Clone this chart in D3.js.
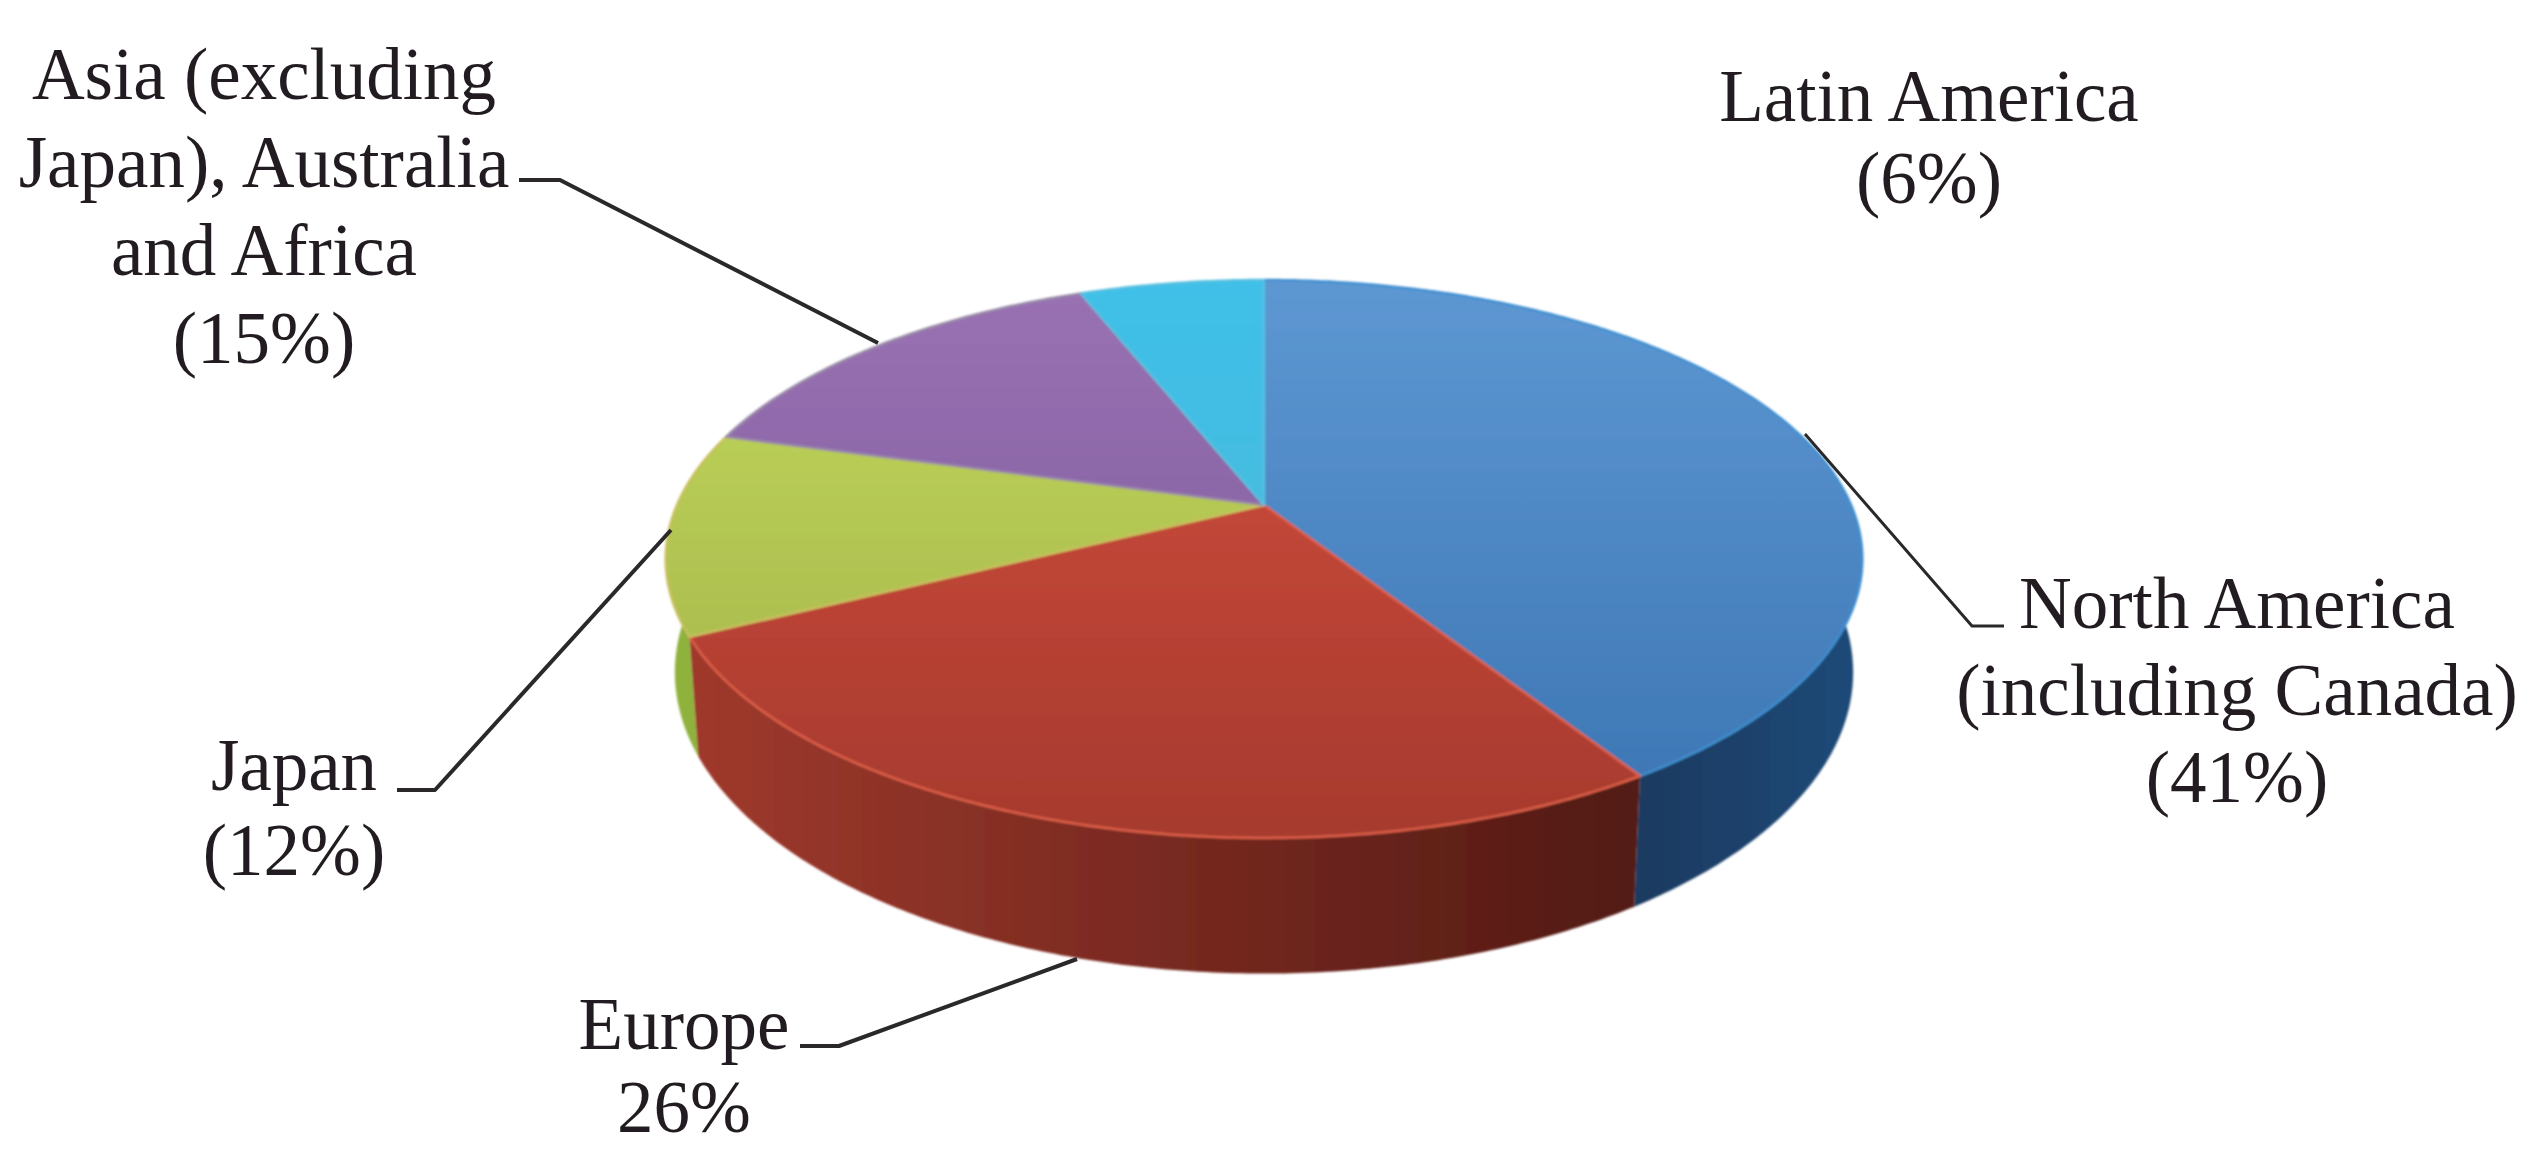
<!DOCTYPE html>
<html>
<head>
<meta charset="utf-8">
<script src="https://cdn.jsdelivr.net/npm/d3@7/dist/d3.min.js"></script>
<style>
html,body{margin:0;padding:0;background:#fff;}
svg{display:block;}
text{font-family:"Liberation Serif","Times New Roman",serif;font-size:73px;fill:#231f20;text-anchor:middle;}
</style>
</head>
<body>
<script>
// ---- data ----
const regions = ["North America", "Europe", "Japan", "Asia", "Latin America"];
const printedShares = [41, 26, 12, 15, 6];          // printed in the labels
const drawnShares = [41, 26.6, 11.7, 14.7, 6];      // slice sweep as measured in the picture
const labelLines = [
  ["North America", "(including Canada)", "(41%)"],
  ["Europe", "26%"],
  ["Japan", "(12%)"],
  ["Asia (excluding", "Japan), Australia", "and Africa", "(15%)"],
  ["Latin America", "(6%)"]
];
// ---- styles and layout, separate from the data ----
const topColors = [["#5e98d3","#3b74b2"],["#d6503f","#a63a2e"],["#c2d95a","#a1b04a"],["#9a72b4","#775796"],["#3fc0e8","#4fb6d4"]];
const sideColors = [["#1c3a60","#1f4a78"],["#a03a2d","#521a14"],["#8fb23c","#84a636"],["#6a4a8a","#6a4a8a"],["#3a9ab8","#3a9ab8"]];
const rimColors = ["#3f8fd0","#dd5f48","#c8c060","#9a8aa8","#58c0e0"];
const labelPos = [[2237,628,87],[684,1049,83],[294,790,85],[264,99,88],[1929,121,82]];
const leaders = [
  [[1805,434],[1972,626],[2004,626]],
  [[800,1046],[839,1046],[1077,959]],
  [[397,790],[435,790],[671,530]],
  [[519,180],[560,180],[878,343]]
];
const leaderWidths = [3,4,4,4];

const width = 2544, height = 1167;
const k = 0.1935;
const X = d3.scaleLinear().domain([0,1]).range([1264,1264+587]);
const Y = d3.scaleLinear().domain([0,1]).range([505,505+268.5]);
const X2 = d3.scaleLinear().domain([0,1]).range([1264,1264+578]);
const Y2 = d3.scaleLinear().domain([0,1]).range([614,614+290]);

// perspective view of a point on the disc's rim or centre
const view = (xs, ys, a, r=1) => {
  const u = r*Math.sin(a), v = -r*Math.cos(a), w = 1-k*v;
  return [xs(u/w), ys(v/w)];
};
const arcPts = (xs, ys, a0, a1) => {
  const n = Math.max(2, Math.ceil((a1-a0)/0.01));
  return d3.range(n+1).map(i => view(xs, ys, a0+(a1-a0)*i/n));
};

const svg = d3.select("body").append("svg").attr("width",width).attr("height",height);
const defs = svg.append("defs");
defs.append("filter").attr("id","soft").attr("x","-5%").attr("y","-5%").attr("width","110%").attr("height","110%")
  .append("feGaussianBlur").attr("stdDeviation",1.1);
defs.append("filter").attr("id","softText")
  .attr("x","-5%").attr("y","-5%").attr("width","110%").attr("height","110%")
  .append("feGaussianBlur").attr("stdDeviation",0.7);

const grad = (id, stops, vertical) => {
  const g = defs.append("linearGradient").attr("id",id).attr("gradientUnits","userSpaceOnUse");
  if (vertical) g.attr("x1",0).attr("x2",0).attr("y1",278).attr("y2",836);
  else g.attr("x1",675).attr("x2",1640).attr("y1",0).attr("y2",0);
  g.selectAll("stop").data(stops).join("stop")
    .attr("offset",(d,i)=>i/(stops.length-1)).attr("stop-color",d=>d);
};
topColors.forEach((c,i)=>grad("top"+i,c,true));
sideColors.forEach((c,i)=>{
  grad("side"+i,c,false);
});
defs.select("#side0").attr("x1",1640).attr("x2",1855);

const slices = d3.pie().sort(null).startAngle(0).endAngle(2*Math.PI)(drawnShares);
const line = d3.line();
const pie = svg.append("g").attr("filter","url(#soft)");

// rim: back slices first, red in front
[3,4,0,2,1].forEach(i=>{
  const s = slices[i];
  const pts = arcPts(X,Y,s.startAngle,s.endAngle).concat(arcPts(X2,Y2,s.startAngle,s.endAngle).reverse());
  pie.append("path").attr("d",line(pts)+"Z").attr("fill",`url(#side${i})`);
});
// top face
pie.selectAll("path.top").data(slices).join("path").attr("class","top")
  .attr("d",s=>line([view(X,Y,0,0)].concat(arcPts(X,Y,s.startAngle,s.endAngle)))+"Z")
  .attr("fill",(s,i)=>`url(#top${i})`)
  .attr("stroke",(s,i)=>rimColors[i]).attr("stroke-width",2.5).attr("stroke-linejoin","round");

// leader lines
svg.append("g").selectAll("path").data(leaders).join("path")
  .attr("d",d=>line(d)).attr("fill","none").attr("stroke","#2a2829")
  .attr("stroke-width",(d,i)=>leaderWidths[i]).attr("stroke-linejoin","round");

// labels
const lab = svg.append("g").attr("filter","url(#softText)");
labelLines.forEach((lines,i)=>{
  const [x,y,dy] = labelPos[i];
  lab.append("g").selectAll("text").data(lines).join("text")
    .attr("x",x).attr("y",(d,j)=>y+j*dy).text(d=>d);
});
</script>
</body>
</html>
